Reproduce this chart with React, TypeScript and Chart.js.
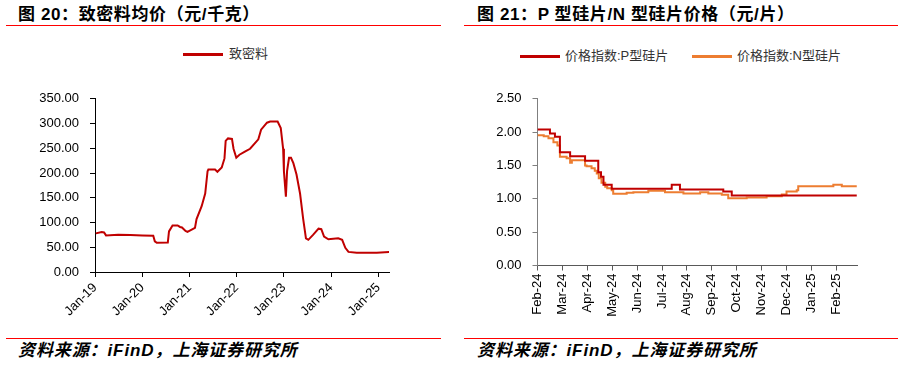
import React, { useEffect, useRef } from 'react';
import { Chart, registerables } from 'chart.js';

Chart.register(...registerables);

// ---------- Data: 致密料均价 (元/千克), x = months since Jan-2019 ----------
const polyMonths = [
  0.2, 1.7, 2.3, 2.8, 5.9, 9, 12, 14.8, 15.2, 15.7, 18.5, 18.8, 19.7, 21, 21.6, 22.1,
  23.0, 23.5, 25.4, 25.8, 27.1, 28.0, 28.6, 28.8, 30.5, 31.1, 32.2, 32.9, 33.2, 33.8,
  34.8, 35.2, 35.9, 36.7, 38.2, 39.4, 41.5, 42.2, 43.7, 44.5, 46.4, 47.2, 47.8, 48.0,
  48.5, 48.8, 49.3, 49.8, 50.4, 51.2, 52.1, 52.9, 53.6, 54.2, 55.4, 56.8, 57.5, 58.2,
  59.3, 61.8, 62.8, 63.6, 64.4, 66.5, 69.1, 71.6, 74.9,
];
const polyPrice = [
  78, 81, 80, 74, 75.5, 75, 74, 73.5, 62, 59, 59.5, 82, 94, 94, 91, 90,
  83, 81, 89, 107, 133, 158.6, 203.7, 207, 207, 202.5, 211, 229.5, 265, 270,
  269, 249, 231, 237, 243.7, 249, 268, 287.6, 301.7, 304, 304, 290.7, 249, 203.7,
  152, 203.7, 230.7, 230.7, 220, 197, 158.6, 107, 68, 65, 75, 87.6, 86.5, 71.6,
  66, 68, 65, 49, 40.6, 38.7, 39, 38.7, 40.6,
];
const polyTickLabels = ['Jan-19', 'Jan-20', 'Jan-21', 'Jan-22', 'Jan-23', 'Jan-24', 'Jan-25'];

// ---------- Data: 硅片价格指数 (元/片), x = months since Feb-2024 ----------
const waferMonthsP = [0, 0.5, 0.7, 0.9, 1.31, 1.91, 2.44, 2.55, 2.65, 2.98, 5.39, 5.72, 7.46, 7.8, 12.82];
const waferP = [2.04, 1.98, 1.93, 1.7, 1.64, 1.57, 1.4, 1.33, 1.21, 1.15, 1.21, 1.14, 1.11, 1.05, 1.05];

const waferMonthsN = [
  0, 0.25, 0.44, 0.64, 0.8, 0.9, 1.17, 1.31, 1.38, 1.91, 1.97, 2.17, 2.3, 2.38, 2.46,
  2.57, 2.72, 2.8, 2.98, 3.04, 3.58, 3.85, 4.45, 5.12, 5.86, 6.53, 6.86, 7.4, 7.66,
  8.4, 9.2, 9.81, 10.0, 10.41, 10.47, 11.88, 12.22, 12.82,
];
const waferN = [
  1.955, 1.94, 1.91, 1.85, 1.8, 1.63, 1.61, 1.54, 1.58, 1.5, 1.49, 1.46, 1.42, 1.38, 1.31,
  1.24, 1.18, 1.16, 1.13, 1.075, 1.09, 1.1, 1.12, 1.1, 1.08, 1.1, 1.08, 1.06, 1.01,
  1.02, 1.04, 1.065, 1.11, 1.13, 1.19, 1.21, 1.19, 1.19,
];
const waferTickLabels = [
  'Feb-24', 'Mar-24', 'Apr-24', 'May-24', 'Jun-24', 'Jul-24', 'Aug-24', 'Sep-24',
  'Oct-24', 'Nov-24', 'Dec-24', 'Jan-25', 'Feb-25',
];

const seriesPoly = '致密料';
const seriesP = '价格指数:P型硅片';
const seriesN = '价格指数:N型硅片';

const RED = '#C00000';
const ORANGE = '#ED7D31';
const LATIN = '"Liberation Sans", Arial, "Noto Sans CJK SC", sans-serif';

function toPoints(xs: number[], ys: number[]) {
  return xs.map((x, i) => ({ x, y: ys[i] }));
}

function ChartCanvas({ make, width, height, style }: { make: () => any; width: number; height: number; style: React.CSSProperties }) {
  const ref = useRef<HTMLCanvasElement | null>(null);
  useEffect(() => {
    if (!ref.current) return;
    const chart = new Chart(ref.current, make());
    return () => chart.destroy();
  }, []);
  return <canvas ref={ref} width={width} height={height} style={{ position: 'absolute', display: 'block', width, height, ...style }} />;
}

function axisCommon(color: string) {
  return {
    grid: { drawOnChartArea: false, drawTicks: true, tickLength: 5, color },
    border: { color, width: 1 },
  };
}

function makePolyConfig() {
  return {
    type: 'line',
    data: {
      datasets: [
        {
          label: seriesPoly,
          data: toPoints(polyMonths, polyPrice),
          borderColor: RED,
          backgroundColor: RED,
          borderWidth: 2,
          pointRadius: 0,
          tension: 0,
          fill: false,
        },
      ],
    },
    options: {
      responsive: false,
      animation: false,
      layout: { padding: { top: 11, right: 11, left: 0, bottom: 0 } },
      plugins: { legend: { display: false }, tooltip: { enabled: false } },
      scales: {
        x: {
          type: 'linear',
          min: 0,
          max: 74.7,
          afterFit: (s: any) => { s.height = 55; },
          ticks: {
            stepSize: 12,
            includeBounds: false,
            autoSkip: false,
            maxRotation: 45,
            minRotation: 45,
            padding: 3,
            color: '#000',
            font: { family: LATIN, size: 13 },
            callback: (v: number) => polyTickLabels[Math.round(v / 12)] ?? '',
          },
          ...axisCommon('#000'),
        },
        y: {
          min: 0,
          max: 350,
          afterFit: (s: any) => { s.width = 95; },
          ticks: {
            stepSize: 50,
            padding: 11,
            color: '#000',
            font: { family: LATIN, size: 13 },
            callback: (v: number) => Number(v).toFixed(2),
          },
          ...axisCommon('#000'),
        },
      },
    },
  };
}

function makeWaferConfig() {
  return {
    type: 'line',
    data: {
      datasets: [
        {
          label: seriesP,
          data: toPoints(waferMonthsP, waferP),
          borderColor: RED,
          backgroundColor: RED,
          borderWidth: 2,
          pointRadius: 0,
          stepped: true,
          fill: false,
        },
        {
          label: seriesN,
          data: toPoints(waferMonthsN, waferN),
          borderColor: ORANGE,
          backgroundColor: ORANGE,
          borderWidth: 2,
          pointRadius: 0,
          stepped: true,
          fill: false,
        },
      ],
    },
    options: {
      responsive: false,
      animation: false,
      layout: { padding: { top: 12.3, right: 47, left: 0, bottom: 0 } },
      plugins: { legend: { display: false }, tooltip: { enabled: false } },
      scales: {
        x: {
          type: 'linear',
          min: 0,
          max: 12.83,
          afterFit: (s: any) => { s.height = 55.5; },
          ticks: {
            stepSize: 1,
            includeBounds: false,
            autoSkip: false,
            maxRotation: 90,
            minRotation: 90,
            padding: 3,
            color: '#000',
            font: { family: LATIN, size: 13 },
            callback: (v: number) => waferTickLabels[Math.round(v)] ?? '',
          },
          ...axisCommon('#595959'),
        },
        y: {
          min: 0,
          max: 2.5,
          afterFit: (s: any) => { s.width = 85.5; },
          ticks: {
            stepSize: 0.5,
            padding: 11,
            color: '#000',
            font: { family: LATIN, size: 13 },
            callback: (v: number) => Number(v).toFixed(2),
          },
          ...axisCommon('#7F7F7F'),
        },
      },
    },
  };
}

const titleStyle: React.CSSProperties = {
  position: 'absolute',
  top: 5,
  fontFamily: LATIN,
  fontWeight: 700,
  fontSize: 17,
  letterSpacing: '0.6px',
  lineHeight: '20px',
  color: '#000',
  whiteSpace: 'nowrap',
};
const sourceStyle: React.CSSProperties = {
  position: 'absolute',
  top: 341,
  fontFamily: LATIN,
  fontWeight: 700,
  fontStyle: 'italic',
  fontSize: 17,
  letterSpacing: '0.9px',
  lineHeight: '20px',
  color: '#000',
  whiteSpace: 'nowrap',
};
const legendText: React.CSSProperties = {
  position: 'absolute',
  fontFamily: LATIN,
  fontSize: 13,
  lineHeight: '16px',
  color: '#333',
  whiteSpace: 'nowrap',
};

function Rule({ left, top, width }: { left: number; top: number; width: number }) {
  return <div style={{ position: 'absolute', left, top, width, height: 1, background: '#FF0000' }} />;
}

function LegendLine({ left, top, color }: { left: number; top: number; color: string }) {
  return <div style={{ position: 'absolute', left, top, width: 40, height: 3, background: color }} />;
}

export default function App() {
  return (
    <div style={{ position: 'absolute', left: 0, top: 0, width: 904, height: 365, background: '#fff', overflow: 'hidden' }}>
      {/* left panel */}
      <div style={{ ...titleStyle, left: 18 }}>图 20：致密料均价（元/千克）</div>
      <Rule left={6} top={25} width={435} />
      <LegendLine left={183} top={53} color={RED} />
      <div style={{ ...legendText, left: 229, top: 46 }}>{seriesPoly}</div>
      <ChartCanvas make={makePolyConfig} width={400} height={247} style={{ left: 0, top: 80 }} />
      <Rule left={6} top={338} width={435} />
      <div style={{ ...sourceStyle, left: 18 }}>资料来源：iFinD，上海证券研究所</div>

      {/* right panel */}
      <div style={{ ...titleStyle, left: 477 }}>图 21：P 型硅片/N 型硅片价格（元/片）</div>
      <Rule left={464} top={25} width={434} />
      <LegendLine left={520} top={55} color={RED} />
      <div style={{ ...legendText, left: 565, top: 48 }}>{seriesP}</div>
      <LegendLine left={692} top={55} color={ORANGE} />
      <div style={{ ...legendText, left: 737, top: 48 }}>{seriesN}</div>
      <ChartCanvas make={makeWaferConfig} width={452} height={241} style={{ left: 452, top: 80 }} />
      <Rule left={464} top={338} width={434} />
      <div style={{ ...sourceStyle, left: 477 }}>资料来源：iFinD，上海证券研究所</div>
    </div>
  );
}
